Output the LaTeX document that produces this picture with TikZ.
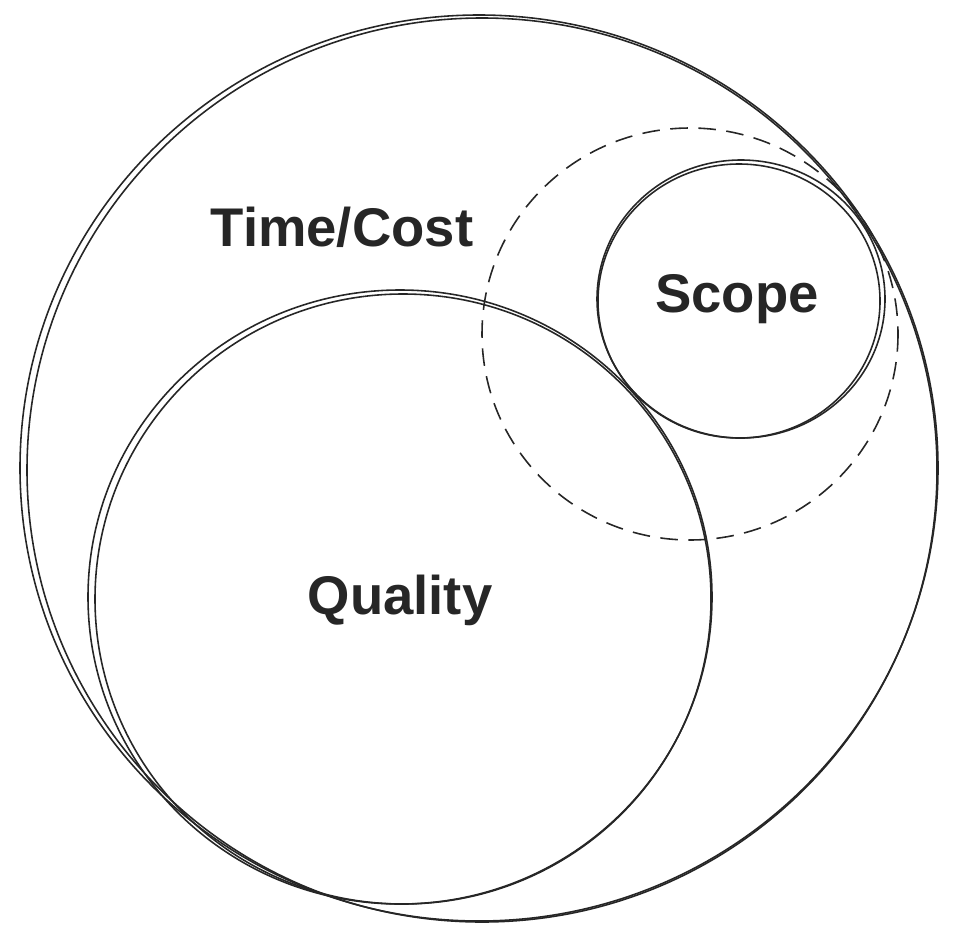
\documentclass[tikz,border=0pt]{standalone}
\usepackage{fontspec}
\setmainfont{Liberation Sans}
\begin{document}
\begin{tikzpicture}[x=0.02cm,y=-0.02cm,
  ring/.style={draw=black!85,line width=0.9pt},
  lbl/.style={font=\fontsize{31}{36}\selectfont\bfseries,text=black!85}]
\useasboundingbox (0,0) rectangle (956,946);
\draw[ring] (479,468) ellipse [x radius=459,y radius=453];
\draw[ring] (482,470) ellipse [x radius=455,y radius=452];
\draw[ring] (400,597) ellipse [x radius=312,y radius=307];
\draw[ring] (403,599) ellipse [x radius=308,y radius=305];
\draw[ring,dashed,dash pattern=on 10pt off 6pt] (690,334) ellipse [x radius=208,y radius=206];
\draw[ring] (741,299) ellipse [x radius=144,y radius=139];
\draw[ring] (739,301) ellipse [x radius=141,y radius=137];
\node[lbl] (tc) at (342,227) {Time/Cost};
\node[lbl] (sc) at (737,299) {Scope};
\node[lbl] (q) at (400,600) {Quality};
\end{tikzpicture}
\end{document}
